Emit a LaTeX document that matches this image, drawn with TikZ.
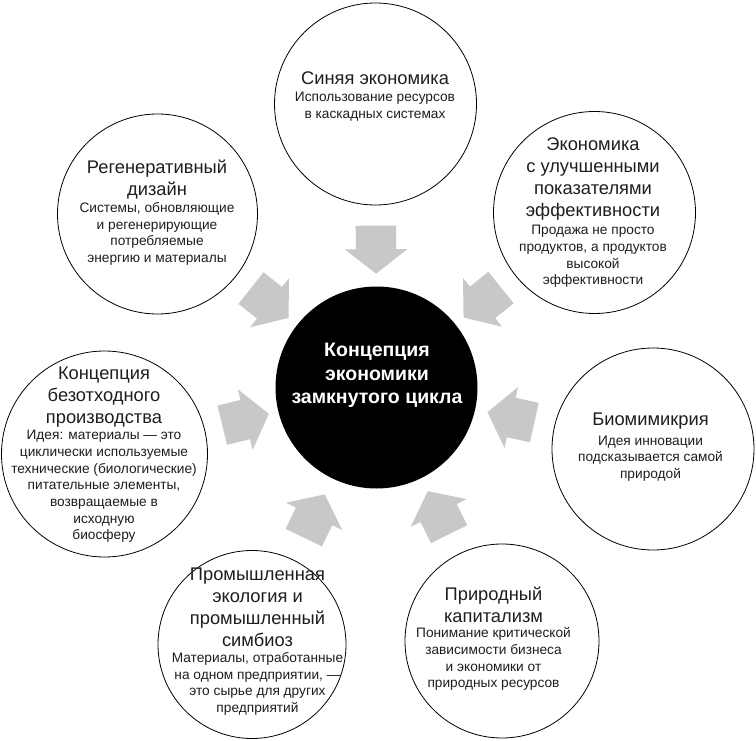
\documentclass[tikz,border=0pt]{standalone}
\usepackage{fontspec}
\setmainfont{Liberation Sans}
\usetikzlibrary{shapes.arrows}
\definecolor{arrowgray}{RGB}{200,200,200}
\definecolor{ink}{RGB}{30,30,30}
\tikzset{
  outer/.style={circle, draw=black, line width=0.8pt, fill=white, minimum size=#1, inner sep=0pt},
  hub/.style={circle, fill=black, minimum size=202pt, inner sep=0pt},
  ttl/.style={font=\fontsize{18.3}{22}\selectfont, align=center, inner sep=0pt, text=ink},
  subt/.style={font=\fontsize{13.7}{16.7}\selectfont, align=center, inner sep=0pt, text=ink},
  hubtext/.style={font=\bfseries\fontsize{19.5}{23.5}\selectfont, align=center, inner sep=0pt, text=white},
  blockarrow/.style={single arrow, fill=arrowgray, draw=none, minimum height=48pt,
    inner xsep=0pt, inner ysep=20pt, text height=0pt, text depth=0pt,
    single arrow head extend=11pt, single arrow tip angle=104, sloped, allow upside down, pos=0.45}
}
\begin{document}
\begin{tikzpicture}[x=1pt,y=-1pt]
\useasboundingbox (0,0) rectangle (756,741);
\fill[white] (0,0) rectangle (756,741);
% circles
\node[hub] (c) at (376.5,387.5) {};
\node[outer=202pt] (n1) at (375.5,104) {};
\node[outer=202pt] (n2) at (594.5,212.5) {};
\node[outer=202pt] (n3) at (653,449) {};
\node[outer=194pt] (n4) at (502,641) {};
\node[outer=188pt] (n5) at (252,644.5) {};
\node[outer=206pt] (n6) at (104.5,454) {};
\node[outer=200pt] (n7) at (157.5,214) {};
% arrows
\path (n1) -- (c) node[blockarrow] (a1) {};
\path (n2) -- (c) node[blockarrow] (a2) {};
\path (n3) -- (c) node[blockarrow] (a3) {};
\path (n4) -- (c) node[blockarrow] (a4) {};
\path (n5) -- (c) node[blockarrow] (a5) {};
\path (n6) -- (c) node[blockarrow] (a6) {};
\path (n7) -- (c) node[blockarrow] (a7) {};
% texts
\node[hubtext] (tc) at (377,375.5) {Концепция\\экономики\\замкнутого цикла};
\node[ttl] (t1) at (375,78.5) {Синяя экономика};
\node[subt] (s1) at (375,106.5) {Использование ресурсов\\в каскадных системах};
\node[ttl] (t2) at (593,179.5) {Экономика\\с улучшенными\\показателями\\эффективности};
\node[subt] (s2) at (593,256.5) {Продажа не просто\\продуктов, а продуктов\\высокой\\эффективности};
\node[ttl] (t3) at (650.5,421.5) {Биомимикрия};
\node[subt] (s3) at (650.5,458.5) {Идея инновации\\подсказывается самой\\природой};
\node[ttl] (t4) at (493.5,604.5) {Природный\\капитализм};
\node[subt] (s4) at (493.5,659) {Понимание критической\\зависимости бизнеса\\и экономики от\\природных ресурсов};
\node[ttl] (t5) at (257.5,607.5) {Промышленная\\экология и\\промышленный\\симбиоз};
\node[subt] (s5) at (257.5,684) {Материалы, отработанные\\на одном предприятии, —\\это сырье для других\\предприятий};
\node[ttl] (t6) at (104,397) {Концепция\\безотходного\\производства};
\node[subt] (s6) at (104,486.5) {Идея: материалы — это\\циклически используемые\\технические (биологические)\\питательные элементы,\\возвращаемые в\\исходную\\биосферу};
\node[ttl] (t7) at (157,180) {Регенеративный\\дизайн};
\node[subt] (s7) at (157,234) {Системы, обновляющие\\и регенерирующие\\потребляемые\\энергию и материалы};
\end{tikzpicture}
\end{document}
